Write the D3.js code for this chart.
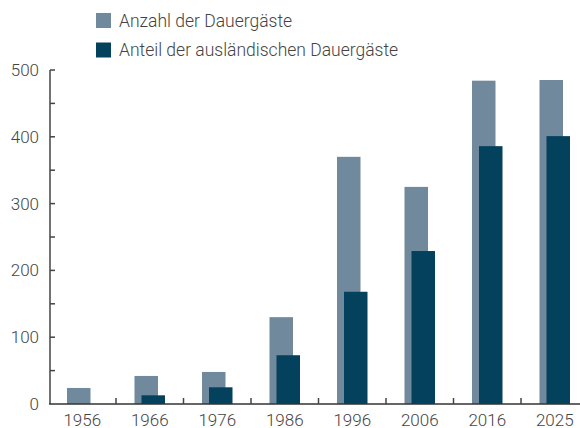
<!DOCTYPE html>
<html>
<head>
<meta charset="utf-8">
<script src="https://cdn.jsdelivr.net/npm/d3@7"></script>
<style>
  body { margin: 0; background: #fff; }
  text { font-family: Roboto, "Noto Sans", sans-serif; font-weight: 300; fill: #444; }
</style>
</head>
<body>
<div id="graph"></div>
<script>
var years     = ["1956","1966","1976","1986","1996","2006","2016","2025"]
var total     = [24, 42, 48, 130, 370, 325, 484, 485]   // Anzahl der Dauergäste
var foreign   = [0, 13, 25, 73, 168, 229, 386, 401]     // Anteil der ausländischen Dauergäste
var yTicks    = [0, 100, 200, 300, 400, 500]
var legendTxt = ["Anzahl der Dauergäste", "Anteil der ausländischen Dauergäste"]
var colors    = ["#71899d", "#04415c"]

var width = 580, height = 428

var svg = d3.select('#graph').append('svg')
  .attr('width', width)
  .attr('height', height)

var x = d3.scaleBand()
  .domain(years)
  .range([48.5, 588.5])

var y = d3.scaleLinear()
  .domain([0, 500])
  .range([404, 70])

var barW = 23.5, shift = 7   // dark bar sits a bit to the right of the grey one

/* bars */
var g = svg.append('g')
years.forEach(function(yr, i) {
  var c = x(yr) + x.bandwidth() / 2
  var x0 = c - (barW + shift) / 2
  g.append('rect')
    .attr('x', x0).attr('width', barW)
    .attr('y', y(total[i])).attr('height', y(0) - y(total[i]))
    .attr('fill', colors[0])
  if (foreign[i] > 0) {
    g.append('rect')
      .attr('x', x0 + shift).attr('width', barW)
      .attr('y', y(foreign[i])).attr('height', y(0) - y(foreign[i]))
      .attr('fill', colors[1])
  }
})

/* y axis */
var yAxis = svg.append('g').attr('transform', 'translate(50,0)')
yAxis.append('line')
  .attr('y1', y(500)).attr('y2', y(0))
  .attr('stroke', '#444').attr('stroke-width', 1.5)
yAxis.selectAll('line.tk')
  .data(d3.range(50, 501, 50))
  .join('line')
  .attr('class', 'tk')
  .attr('x1', 0).attr('x2', 5)
  .attr('y1', d => y(d)).attr('y2', d => y(d))
  .attr('stroke', '#444').attr('stroke-width', 1.5)
yAxis.selectAll('text')
  .data(yTicks)
  .join('text')
  .attr('x', -11)
  .attr('y', d => y(d))
  .attr('dy', '0.35em')
  .attr('text-anchor', 'end')
  .attr('font-size', '17px')
  .text(d => d)

/* x axis */
var xAxis = svg.append('g')
xAxis.append('line')
  .attr('x1', 49).attr('x2', width)
  .attr('y1', y(0)).attr('y2', y(0))
  .attr('stroke', '#333').attr('stroke-width', 1.5)
xAxis.selectAll('line.tk')
  .data(years.slice(1))
  .join('line')
  .attr('class', 'tk')
  .attr('x1', d => x(d)).attr('x2', d => x(d))
  .attr('y1', y(0) - 6).attr('y2', y(0))
  .attr('stroke', '#444').attr('stroke-width', 1.5)
xAxis.selectAll('text')
  .data(years)
  .join('text')
  .attr('x', d => x(d) + x.bandwidth() / 2)
  .attr('y', 426)
  .attr('text-anchor', 'middle')
  .attr('font-size', '17px')
  .text(d => d)

/* legend */
var leg = svg.append('g')
leg.selectAll('rect')
  .data(legendTxt)
  .join('rect')
  .attr('x', 96).attr('y', (d, i) => 13 + i * 29.5)
  .attr('width', 15).attr('height', 15)
  .attr('fill', (d, i) => colors[i])
leg.selectAll('text')
  .data(legendTxt)
  .join('text')
  .attr('x', 119).attr('y', (d, i) => 20.5 + i * 29.5)
  .attr('dy', '0.35em')
  .attr('font-size', '17.5px')
  .text(d => d)
</script>
</body>
</html>
